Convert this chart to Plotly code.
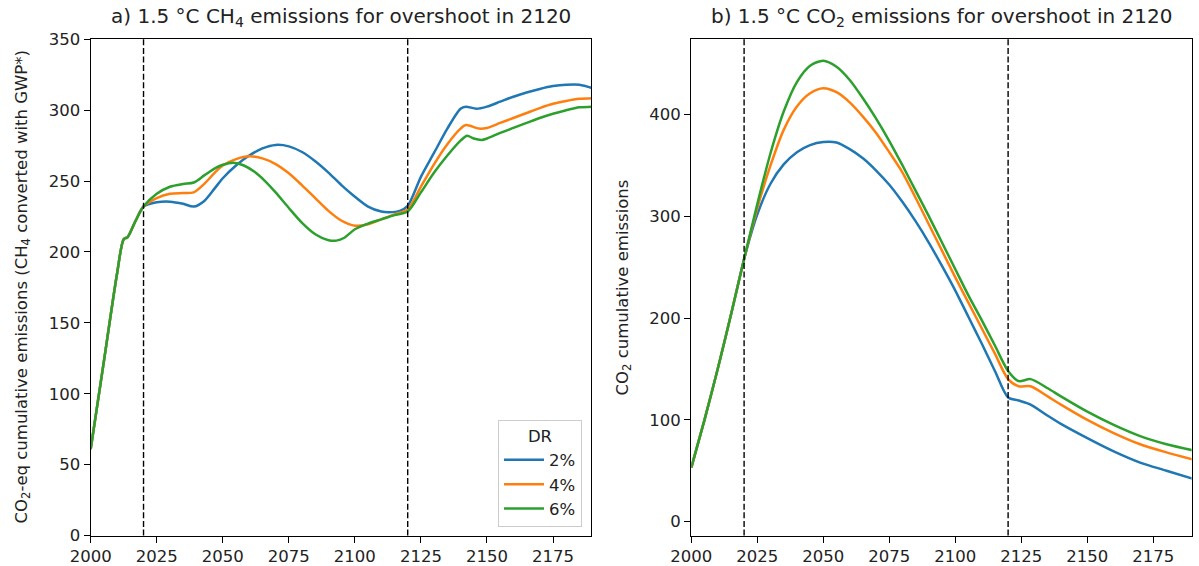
import plotly.graph_objects as go

# ---------------- Data: panel a (CH4, CO2-eq via GWP*) ----------------
years_a_2 = [2000, 2005, 2010, 2012.5, 2014, 2017, 2020, 2025, 2030, 2035, 2039, 2043, 2047, 2050,
             2055, 2060, 2065, 2070, 2075, 2080, 2085, 2090, 2095, 2100, 2105, 2110, 2113, 2117,
             2120, 2125, 2130, 2135, 2140, 2142, 2146, 2150, 2155, 2160, 2165, 2170, 2175, 2180,
             2185, 2190]
ch4_dr2 = [61, 123, 185, 209, 210.5, 222, 232, 235, 235.5, 234, 232, 236, 245, 252,
           261, 268, 273, 275.5, 274.5, 270.5, 264, 256, 247, 239, 232, 228.5, 228, 229,
           232.5, 253, 270, 287, 301, 302.5, 301, 302.5, 306, 309.5, 312.5, 315, 317, 318,
           318, 315.5]

years_a_4 = [2000, 2005, 2010, 2012.5, 2014, 2017, 2020, 2025, 2030, 2035, 2039, 2043, 2047, 2050,
             2055, 2060, 2065, 2070, 2075, 2080, 2085, 2090, 2095, 2100, 2105, 2110, 2115,
             2120, 2125, 2130, 2135, 2140, 2142, 2147, 2150, 2155, 2160, 2165, 2170, 2175, 2180,
             2185, 2190]
ch4_dr4 = [61, 123, 185, 209, 210.5, 222, 232, 238, 241, 241.5, 242, 248, 256, 261,
           265.5, 267.5, 266, 262, 255.5, 247, 238, 229, 222, 218.5, 219.5, 223, 226.5,
           230, 246, 262, 276, 287, 289.5, 287, 287.5, 291, 294.5, 298, 301.5, 304.5, 306.5,
           308, 308.5]

years_a_6 = [2000, 2005, 2010, 2012.5, 2014, 2017, 2020, 2025, 2030, 2035, 2039, 2043, 2047, 2050,
             2054, 2058, 2062, 2066, 2070, 2075, 2080, 2085, 2090, 2093, 2096, 2100, 2105, 2110,
             2115, 2120, 2125, 2130, 2135, 2140, 2142.5, 2145, 2148, 2150, 2155, 2160, 2165,
             2170, 2175, 2180, 2185, 2190]
ch4_dr6 = [61, 123, 185, 209, 210.5, 222, 232, 241, 246, 248, 249, 254, 259, 261.5,
           263, 261, 256.5, 250, 242, 231, 220.5, 212.5, 208.3, 208, 210, 216, 220, 223,
           226, 228.5, 242, 256, 268, 278.5, 282, 280, 279, 280, 284, 287.5, 291,
           294.5, 297.5, 300, 302, 302.5]

# ---------------- Data: panel b (CO2) ----------------
years_b = [2000, 2005, 2010, 2015, 2020, 2025, 2030, 2035, 2040, 2045, 2050, 2055, 2060, 2065,
           2070, 2075, 2080, 2085, 2090, 2095, 2100, 2105, 2110, 2115, 2120, 2124, 2128.5,
           2135, 2140, 2150, 2160, 2170, 2180, 2190]
co2_dr2 = [53, 100, 150, 203, 258, 302, 332, 351, 363, 370, 373, 372.5, 366, 357,
           345, 331, 314, 295, 274, 251, 227, 201, 175, 148, 122, 119, 115,
           104, 96, 82, 69, 58, 50, 42]
co2_dr4 = [53, 100, 150, 203, 258, 308, 350, 385, 408, 421, 426, 422, 412, 398,
           382, 363, 343, 318, 292, 266, 240, 215, 190, 165, 140, 133, 133,
           123, 115, 100, 87, 76, 68, 61]
co2_dr6 = [53, 100, 150, 203, 258, 312, 362, 403, 432, 448, 453, 447, 434, 416,
           396, 374, 350, 325, 300, 274, 248, 222, 198, 173, 148, 138, 140,
           131, 123, 108, 95, 84, 76, 70]

dr_labels = ["2%", "4%", "6%"]
colors = ["#1f77b4", "#ff7f0e", "#2ca02c"]
vlines = [2020, 2120]

W, H = 1199, 566
FONT = "DejaVu Sans"

fig = go.Figure()

series_a = [(years_a_2, ch4_dr2), (years_a_4, ch4_dr4), (years_a_6, ch4_dr6)]
series_b = [co2_dr2, co2_dr4, co2_dr6]

for (xs, ys), lab, c in zip(series_a, dr_labels, colors):
    fig.add_trace(go.Scatter(x=xs, y=ys, mode="lines", name=lab,
                             line=dict(color=c, width=2.5, shape="spline", smoothing=0.8),
                             xaxis="x", yaxis="y", showlegend=True))
for ys, lab, c in zip(series_b, dr_labels, colors):
    fig.add_trace(go.Scatter(x=years_b, y=ys, mode="lines", name=lab,
                             line=dict(color=c, width=2.5, shape="spline", smoothing=0.8),
                             xaxis="x2", yaxis="y2", showlegend=False))

xd1 = [90.7 / W, 591.3 / W]
xd2 = [691.3 / W, 1191.6 / W]
yd = [1 - 535.5 / H, 1 - 39.3 / H]

axis_common = dict(showline=True, linecolor="black", linewidth=1.3, mirror=True,
                   ticks="outside", ticklen=6, tickwidth=1.3, tickcolor="black",
                   showgrid=False, zeroline=False,
                   tickfont=dict(family=FONT, size=16.5, color="#222"))

fig.update_layout(
    width=W, height=H,
    margin=dict(l=0, r=0, t=0, b=0, autoexpand=False),
    paper_bgcolor="white", plot_bgcolor="white",
    font=dict(family=FONT, size=16.5, color="#222"),
    xaxis=dict(domain=xd1, range=[2000, 2189.5], tickvals=[2000, 2025, 2050, 2075, 2100, 2125, 2150, 2175],
               anchor="y", **axis_common),
    yaxis=dict(domain=yd, range=[0, 350], dtick=50, anchor="x", **axis_common),
    xaxis2=dict(domain=xd2, range=[2000, 2189.5], tickvals=[2000, 2025, 2050, 2075, 2100, 2125, 2150, 2175],
                anchor="y2", **axis_common),
    yaxis2=dict(domain=yd, range=[-13.7, 474], tickvals=[0, 100, 200, 300, 400], anchor="x2", **axis_common),
    legend=dict(x=582 / W, y=1 - 527 / H, xanchor="right", yanchor="bottom",
                bgcolor="rgba(255,255,255,0.8)", bordercolor="#cccccc", borderwidth=1,
                title=dict(text="DR", side="top center", font=dict(family=FONT, size=16.5, color="#222")),
                font=dict(family=FONT, size=16.5, color="#222"),
                itemwidth=40, tracegroupgap=0),
    showlegend=True,
)

shapes = []
for xr in ["x", "x2"]:
    for v in vlines:
        shapes.append(dict(type="line", xref=xr, yref="y domain" if xr == "x" else "y2 domain",
                           x0=v, x1=v, y0=0, y1=1,
                           line=dict(color="black", width=1.4, dash="6px,2.6px")))
fig.update_layout(shapes=shapes)

annotations = [
    dict(text="a) 1.5 °C CH<sub>4</sub> emissions for overshoot in 2120", xref="paper", yref="paper",
         x=(xd1[0] + xd1[1]) / 2, y=yd[1], xanchor="center", yanchor="bottom", yshift=7,
         showarrow=False, font=dict(family=FONT, size=20, color="#222")),
    dict(text="b) 1.5 °C CO<sub>2</sub> emissions for overshoot in 2120", xref="paper", yref="paper",
         x=(xd2[0] + xd2[1]) / 2, y=yd[1], xanchor="center", yanchor="bottom", yshift=7,
         showarrow=False, font=dict(family=FONT, size=20, color="#222")),
    dict(text="CO<sub>2</sub>-eq cumulative emissions (CH<sub>4</sub> converted with GWP*)",
         xref="paper", yref="paper", x=22 / W, y=(yd[0] + yd[1]) / 2, textangle=-90,
         xanchor="center", yanchor="middle", showarrow=False,
         font=dict(family=FONT, size=16.5, color="#222")),
    dict(text="CO<sub>2</sub> cumulative emissions",
         xref="paper", yref="paper", x=623 / W, y=(yd[0] + yd[1]) / 2, textangle=-90,
         xanchor="center", yanchor="middle", showarrow=False,
         font=dict(family=FONT, size=16.5, color="#222")),
]
fig.update_layout(annotations=annotations)

fig.write_html("out.html")
